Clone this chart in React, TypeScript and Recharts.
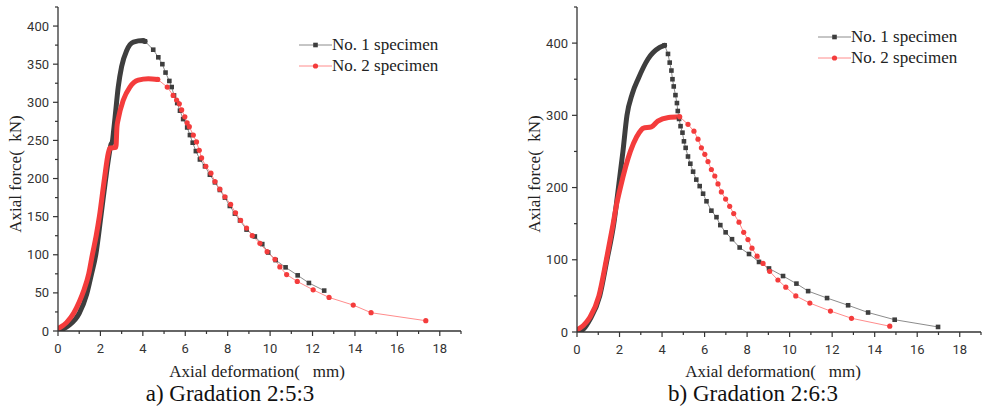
import React from 'react';
import { ComposedChart, Line, XAxis, YAxis } from 'recharts';

type P = [number, number];

const xTicks = [0, 1, 2, 3, 4, 5, 6, 7, 8, 9, 10, 11, 12, 13, 14, 15, 16, 17, 18, 19];
const yTicksA = [0, 25, 50, 75, 100, 125, 150, 175, 200, 225, 250, 275, 300, 325, 350, 375, 400, 425];
const yTicksB = [0, 50, 100, 150, 200, 250, 300, 350, 400, 450];

// a) Gradation 2:5:3
const aNo1Rise: P[] = [
  [0, 0], [0.5, 7], [1.0, 23], [1.35, 48], [1.58, 75], [1.78, 100], [2.02, 150], [2.25, 200],
  [2.37, 224], [2.5, 245], [2.56, 248], [2.62, 262], [2.69, 280], [2.84, 320], [3.0, 347],
  [3.24, 368], [3.55, 379], [4.02, 381], [4.1, 380],
];
const aNo1Fall: P[] = [
  [4.1, 380], [4.49, 369], [4.73, 359], [4.92, 350], [5.07, 339], [5.25, 328], [5.36, 320],
  [5.47, 309], [5.62, 299], [5.75, 289], [5.9, 278], [6.09, 267], [6.22, 257], [6.35, 247],
  [6.5, 236], [6.69, 225], [6.93, 216], [7.16, 205], [7.4, 195], [7.63, 185], [7.87, 175],
  [8.1, 164], [8.34, 154], [8.58, 145], [8.89, 133], [9.28, 124], [9.63, 114], [9.91, 103],
  [10.26, 93], [10.73, 83.5], [11.3, 73], [11.83, 63], [12.55, 53],
];
const aNo2Rise: P[] = [
  [0, 3], [0.4, 11], [0.75, 24], [1.0, 38], [1.2, 52], [1.45, 75], [1.62, 100], [1.8, 125],
  [1.95, 150], [2.19, 200], [2.37, 233], [2.45, 240], [2.73, 241], [2.78, 268], [2.84, 278],
  [3.08, 303], [3.39, 320], [3.78, 329], [4.26, 331], [4.7, 330],
];
const aNo2Fall: P[] = [
  [4.7, 330], [5.15, 320], [5.43, 309], [5.59, 303], [5.72, 298], [5.83, 290], [5.98, 281],
  [6.09, 273], [6.19, 268], [6.38, 257], [6.53, 248], [6.66, 237], [6.77, 227], [6.97, 216],
  [7.21, 207], [7.4, 196], [7.63, 186], [7.87, 176], [8.14, 166], [8.37, 155], [8.61, 145],
  [8.89, 135], [9.16, 125], [9.52, 115], [9.86, 104], [10.23, 94], [10.46, 84], [10.78, 74],
  [11.28, 65], [12.03, 54], [12.78, 44], [13.92, 34], [14.76, 24], [17.34, 13.5],
];

// b) Gradation 2:6:3
const bNo1Rise: P[] = [
  [0, 0], [0.3, 4], [0.6, 17], [1.07, 50], [1.41, 100], [1.73, 150], [1.95, 200], [2.16, 250],
  [2.35, 300], [2.6, 330], [2.87, 350], [3.34, 378], [3.89, 394], [4.12, 397],
];
const bNo1Fall: P[] = [
  [4.12, 397], [4.28, 385], [4.36, 373], [4.44, 362], [4.49, 350], [4.55, 340], [4.63, 328],
  [4.7, 317], [4.74, 306], [4.8, 295], [4.87, 285], [4.96, 276], [5.03, 264], [5.11, 255],
  [5.22, 243], [5.33, 233], [5.46, 222], [5.61, 211], [5.77, 202], [5.93, 191.5], [6.09, 181],
  [6.32, 168], [6.56, 159], [6.74, 148], [6.99, 138], [7.29, 128.5], [7.65, 117], [8.09, 108],
  [8.56, 97], [9.03, 88], [9.69, 77.5], [10.32, 67], [10.87, 56.6], [11.76, 47], [12.75, 37],
  [13.69, 27], [14.94, 17], [16.98, 7],
];
const bNo2Rise: P[] = [
  [0, 3], [0.3, 9], [0.6, 20], [1.03, 50], [1.38, 100], [1.7, 150], [1.85, 175], [2.04, 200],
  [2.51, 250], [2.8, 270], [3.03, 280], [3.1, 282], [3.5, 284], [3.8, 292], [4.3, 297],
  [4.83, 298],
];
const bNo2Fall: P[] = [
  [4.83, 298], [5.22, 287.5], [5.5, 278], [5.69, 267], [5.85, 255], [6.01, 246], [6.16, 236],
  [6.32, 225], [6.48, 216], [6.63, 205], [6.79, 194], [6.99, 184], [7.18, 174], [7.37, 164],
  [7.62, 152], [7.84, 138], [8.04, 128], [8.23, 116], [8.47, 105], [8.75, 95], [9.06, 84],
  [9.45, 72], [9.82, 62], [10.29, 50], [10.95, 40], [11.92, 29], [12.91, 19], [14.71, 8],
];

const legendNames = ['No. 1 specimen', 'No. 2 specimen'];

const toRows = (pts: P[]) => pts.map(([x, y]) => ({ x, y }));

const INK = '#333';
const BLACK = '#3e3e3e';
const BLACK_LINE = '#8c8c8c';
const RED = '#f43c3c';
const RED_LINE = '#ff8c8c';
const SERIF = '"Liberation Serif", "Times New Roman", serif';
const SANS = 'Roboto, "DejaVu Sans", sans-serif';

function XTick(props: any) {
  const { x, y, payload } = props;
  const v = payload.value;
  const major = v % 2 === 0;
  return (
    <g>
      <line x1={x} x2={x} y1={y} y2={y + (major ? 5 : 3)} stroke={INK} strokeWidth={1.2} />
      {major && (
        <text x={x} y={y + 22} textAnchor="middle" fontFamily={SANS} fontSize={13} fill={INK}>
          {v}
        </text>
      )}
    </g>
  );
}

const makeYTick = (step: number) => (props: any) => {
  const { x, y, payload } = props;
  const v = payload.value;
  const major = v % step === 0;
  return (
    <g>
      <line x1={x} x2={x - (major ? 5 : 3)} y1={y} y2={y} stroke={INK} strokeWidth={1.2} />
      {major && (
        <text x={x - 9} y={y + 4.5} textAnchor="end" fontFamily={SANS} fontSize={13} fill={INK}>
          {v}
        </text>
      )}
    </g>
  );
};

const Square = (props: any) => {
  const { cx, cy, index } = props;
  if (cx == null || cy == null) return <g key={index} />;
  return <rect key={index} x={cx - 2.3} y={cy - 2.3} width={4.6} height={4.6} fill={BLACK} />;
};

const Circle = (props: any) => {
  const { cx, cy, index } = props;
  if (cx == null || cy == null) return <g key={index} />;
  return <circle key={index} cx={cx} cy={cy} r={2.6} fill={RED} />;
};

type PanelProps = {
  left: number;
  width: number;
  height: number;
  yMax: number;
  yTicks: number[];
  labelStep: number;
  no1Rise: P[];
  no1Fall: P[];
  no2Rise: P[];
  no2Fall: P[];
  legendTop: number;
  xTitleCenter: number;
  captionCenter: number;
  caption: string;
};

function Panel(p: PanelProps) {
  const YTick = makeYTick(p.labelStep);
  return (
    <div style={{ position: 'absolute', left: p.left, top: 0, width: p.width, height: 409 }}>
      <ComposedChart width={p.width} height={p.height} margin={{ top: 7, right: 1, left: 0, bottom: 0 }}>
        <XAxis
          type="number"
          dataKey="x"
          domain={[0, 19]}
          ticks={xTicks}
          interval={0}
          height={30}
          tickSize={0}
          tickMargin={0}
          tickLine={false}
          tick={<XTick />}
          axisLine={{ stroke: INK, strokeWidth: 1.3 }}
          allowDataOverflow
        />
        <YAxis
          type="number"
          domain={[0, p.yMax]}
          ticks={p.yTicks}
          interval={0}
          width={58}
          tickSize={0}
          tickMargin={0}
          tickLine={false}
          tick={<YTick />}
          axisLine={{ stroke: INK, strokeWidth: 1.3 }}
          allowDataOverflow
        />
        <Line data={toRows(p.no1Fall)} dataKey="y" type="linear" stroke={BLACK_LINE} strokeWidth={1}
          dot={<Square />} activeDot={false} isAnimationActive={false} />
        <Line data={toRows(p.no1Rise)} dataKey="y" type="monotone" stroke={BLACK} strokeWidth={5}
          strokeLinecap="round" dot={false} activeDot={false} isAnimationActive={false} />
        <Line data={toRows(p.no2Fall)} dataKey="y" type="linear" stroke={RED_LINE} strokeWidth={1}
          dot={<Circle />} activeDot={false} isAnimationActive={false} />
        <Line data={toRows(p.no2Rise)} dataKey="y" type="monotone" stroke={RED} strokeWidth={5}
          strokeLinecap="round" dot={false} activeDot={false} isAnimationActive={false} />
      </ComposedChart>

      {/* legend */}
      {legendNames.map((name, i) => (
        <div key={name} style={{ position: 'absolute', left: 299, top: p.legendTop + i * 21 - 10, height: 20, display: 'flex', alignItems: 'center', whiteSpace: 'nowrap' }}>
          <svg width={33} height={20} style={{ flexShrink: 0 }}>
            <line x1={0} x2={33} y1={10} y2={10} stroke={i === 0 ? BLACK_LINE : RED_LINE} strokeWidth={1} />
            {i === 0 ? (
              <rect x={14.2} y={7.7} width={4.6} height={4.6} fill={BLACK} />
            ) : (
              <circle cx={16.5} cy={10} r={2.6} fill={RED} />
            )}
          </svg>
          <span style={{ fontFamily: SERIF, fontSize: 17, color: '#222', flexShrink: 0 }}>{name}</span>
        </div>
      ))}

      {/* y axis title */}
      <div style={{ position: 'absolute', left: 15.5 - 100, top: 174 - 10, width: 200, height: 20, lineHeight: '20px', textAlign: 'center', transform: 'rotate(-90deg)', fontFamily: SERIF, fontSize: 17, color: '#222', whiteSpace: 'pre' }}>
        {'Axial force(  kN)'}
      </div>
      {/* x axis title */}
      <div style={{ position: 'absolute', left: p.xTitleCenter - 150, top: 362, width: 300, height: 20, lineHeight: '20px', textAlign: 'center', fontFamily: SERIF, fontSize: 17, color: '#222', whiteSpace: 'pre' }}>
        {'Axial deformation(   mm)'}
      </div>
      {/* caption */}
      <div style={{ position: 'absolute', left: p.captionCenter - 150, top: 381, width: 300, height: 26, lineHeight: '26px', textAlign: 'center', fontFamily: SERIF, fontSize: 23, color: '#111' }}>
        {p.caption}
      </div>
    </div>
  );
}

export default function App() {
  return (
    <div style={{ position: 'absolute', left: 0, top: 0, width: 982, height: 409, background: '#fff', overflow: 'hidden' }}>
      <Panel left={0} width={462} height={361} yMax={425} yTicks={yTicksA} labelStep={50}
        no1Rise={aNo1Rise} no1Fall={aNo1Fall} no2Rise={aNo2Rise} no2Fall={aNo2Fall}
        legendTop={44.5} xTitleCenter={257} captionCenter={230} caption="a) Gradation 2:5:3" />
      <Panel left={519} width={463} height={362} yMax={450} yTicks={yTicksB} labelStep={100}
        no1Rise={bNo1Rise} no1Fall={bNo1Fall} no2Rise={bNo2Rise} no2Fall={bNo2Fall}
        legendTop={37} xTitleCenter={254} captionCenter={234} caption="b) Gradation 2:6:3" />
    </div>
  );
}
